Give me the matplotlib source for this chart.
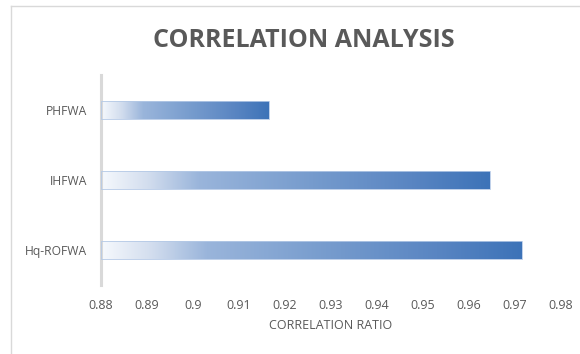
import numpy as np
import matplotlib
matplotlib.use("Agg")
import matplotlib.pyplot as plt
from matplotlib.colors import LinearSegmentedColormap
from matplotlib.lines import Line2D

methods = ["PHFWA", "IHFWA", "Hq-ROFWA"]
ratios = [0.9165, 0.9645, 0.9715]
xticks = [0.88, 0.89, 0.90, 0.91, 0.92, 0.93, 0.94, 0.95, 0.96, 0.97, 0.98]
xtick_labels = ["0.88", "0.89", "0.9", "0.91", "0.92", "0.93", "0.94", "0.95", "0.96", "0.97", "0.98"]

plt.rcParams["font.family"] = ["Open Sans", "DejaVu Sans"]
text_gray = "#595959"

fig = plt.figure(figsize=(5.80, 3.54), dpi=100)
ax = fig.add_axes([0.1741, 0.195, 0.9672 - 0.1741, 0.593])

grad = LinearSegmentedColormap.from_list(
    "bar_fade",
    [(0.0, "#f6f9fd"), (0.12, "#d2ddee"), (0.25, "#9ab5db"),
     (0.5, "#7b9fcf"), (0.8, "#5985c2"), (1.0, "#3d73b8")])

xmin, xmax = 0.88, 0.98
bar_h = 0.245
ramp = np.linspace(0, 1, 256).reshape(1, -1)
for i, (m, v) in enumerate(zip(methods, ratios)):
    ax.imshow(ramp, cmap=grad, aspect="auto", interpolation="bilinear",
              extent=[xmin, v, i - bar_h / 2, i + bar_h / 2], zorder=2)
    ax.add_patch(plt.Rectangle((xmin, i - bar_h / 2), v - xmin, bar_h,
                               fill=False, edgecolor="#b4c9e6", lw=0.6, zorder=3))

ax.set_xlim(xmin, xmax)
ax.set_ylim(len(methods) - 0.5, -0.5)
ax.set_yticks(range(len(methods)))
ax.set_yticklabels(methods, fontsize=8.7, color=text_gray)
ax.set_xticks(xticks)
ax.set_xticklabels(xtick_labels, fontsize=9, color=text_gray)
ax.tick_params(axis="y", length=0, pad=10)
ax.tick_params(axis="x", length=0, pad=10)
for side in ["top", "right", "bottom"]:
    ax.spines[side].set_visible(False)
ax.spines["left"].set_color("#d9d9d9")
ax.spines["left"].set_linewidth(2.2)
ax.set_xlabel("CORRELATION RATIO", fontsize=9, color=text_gray, labelpad=5)

fig.text(0.524, 0.887, "CORRELATION ANALYSIS", ha="center", va="center",
         fontsize=18, fontweight="bold", color=text_gray)

# chart frame
fig.add_artist(Line2D([11 / 580, 11 / 580], [0, 1 - 6 / 354], color="#d9d9d9", lw=1.0))
fig.add_artist(Line2D([11 / 580, 1], [1 - 6 / 354, 1 - 6 / 354], color="#d9d9d9", lw=1.0))

fig.savefig("out.png", dpi=100)
